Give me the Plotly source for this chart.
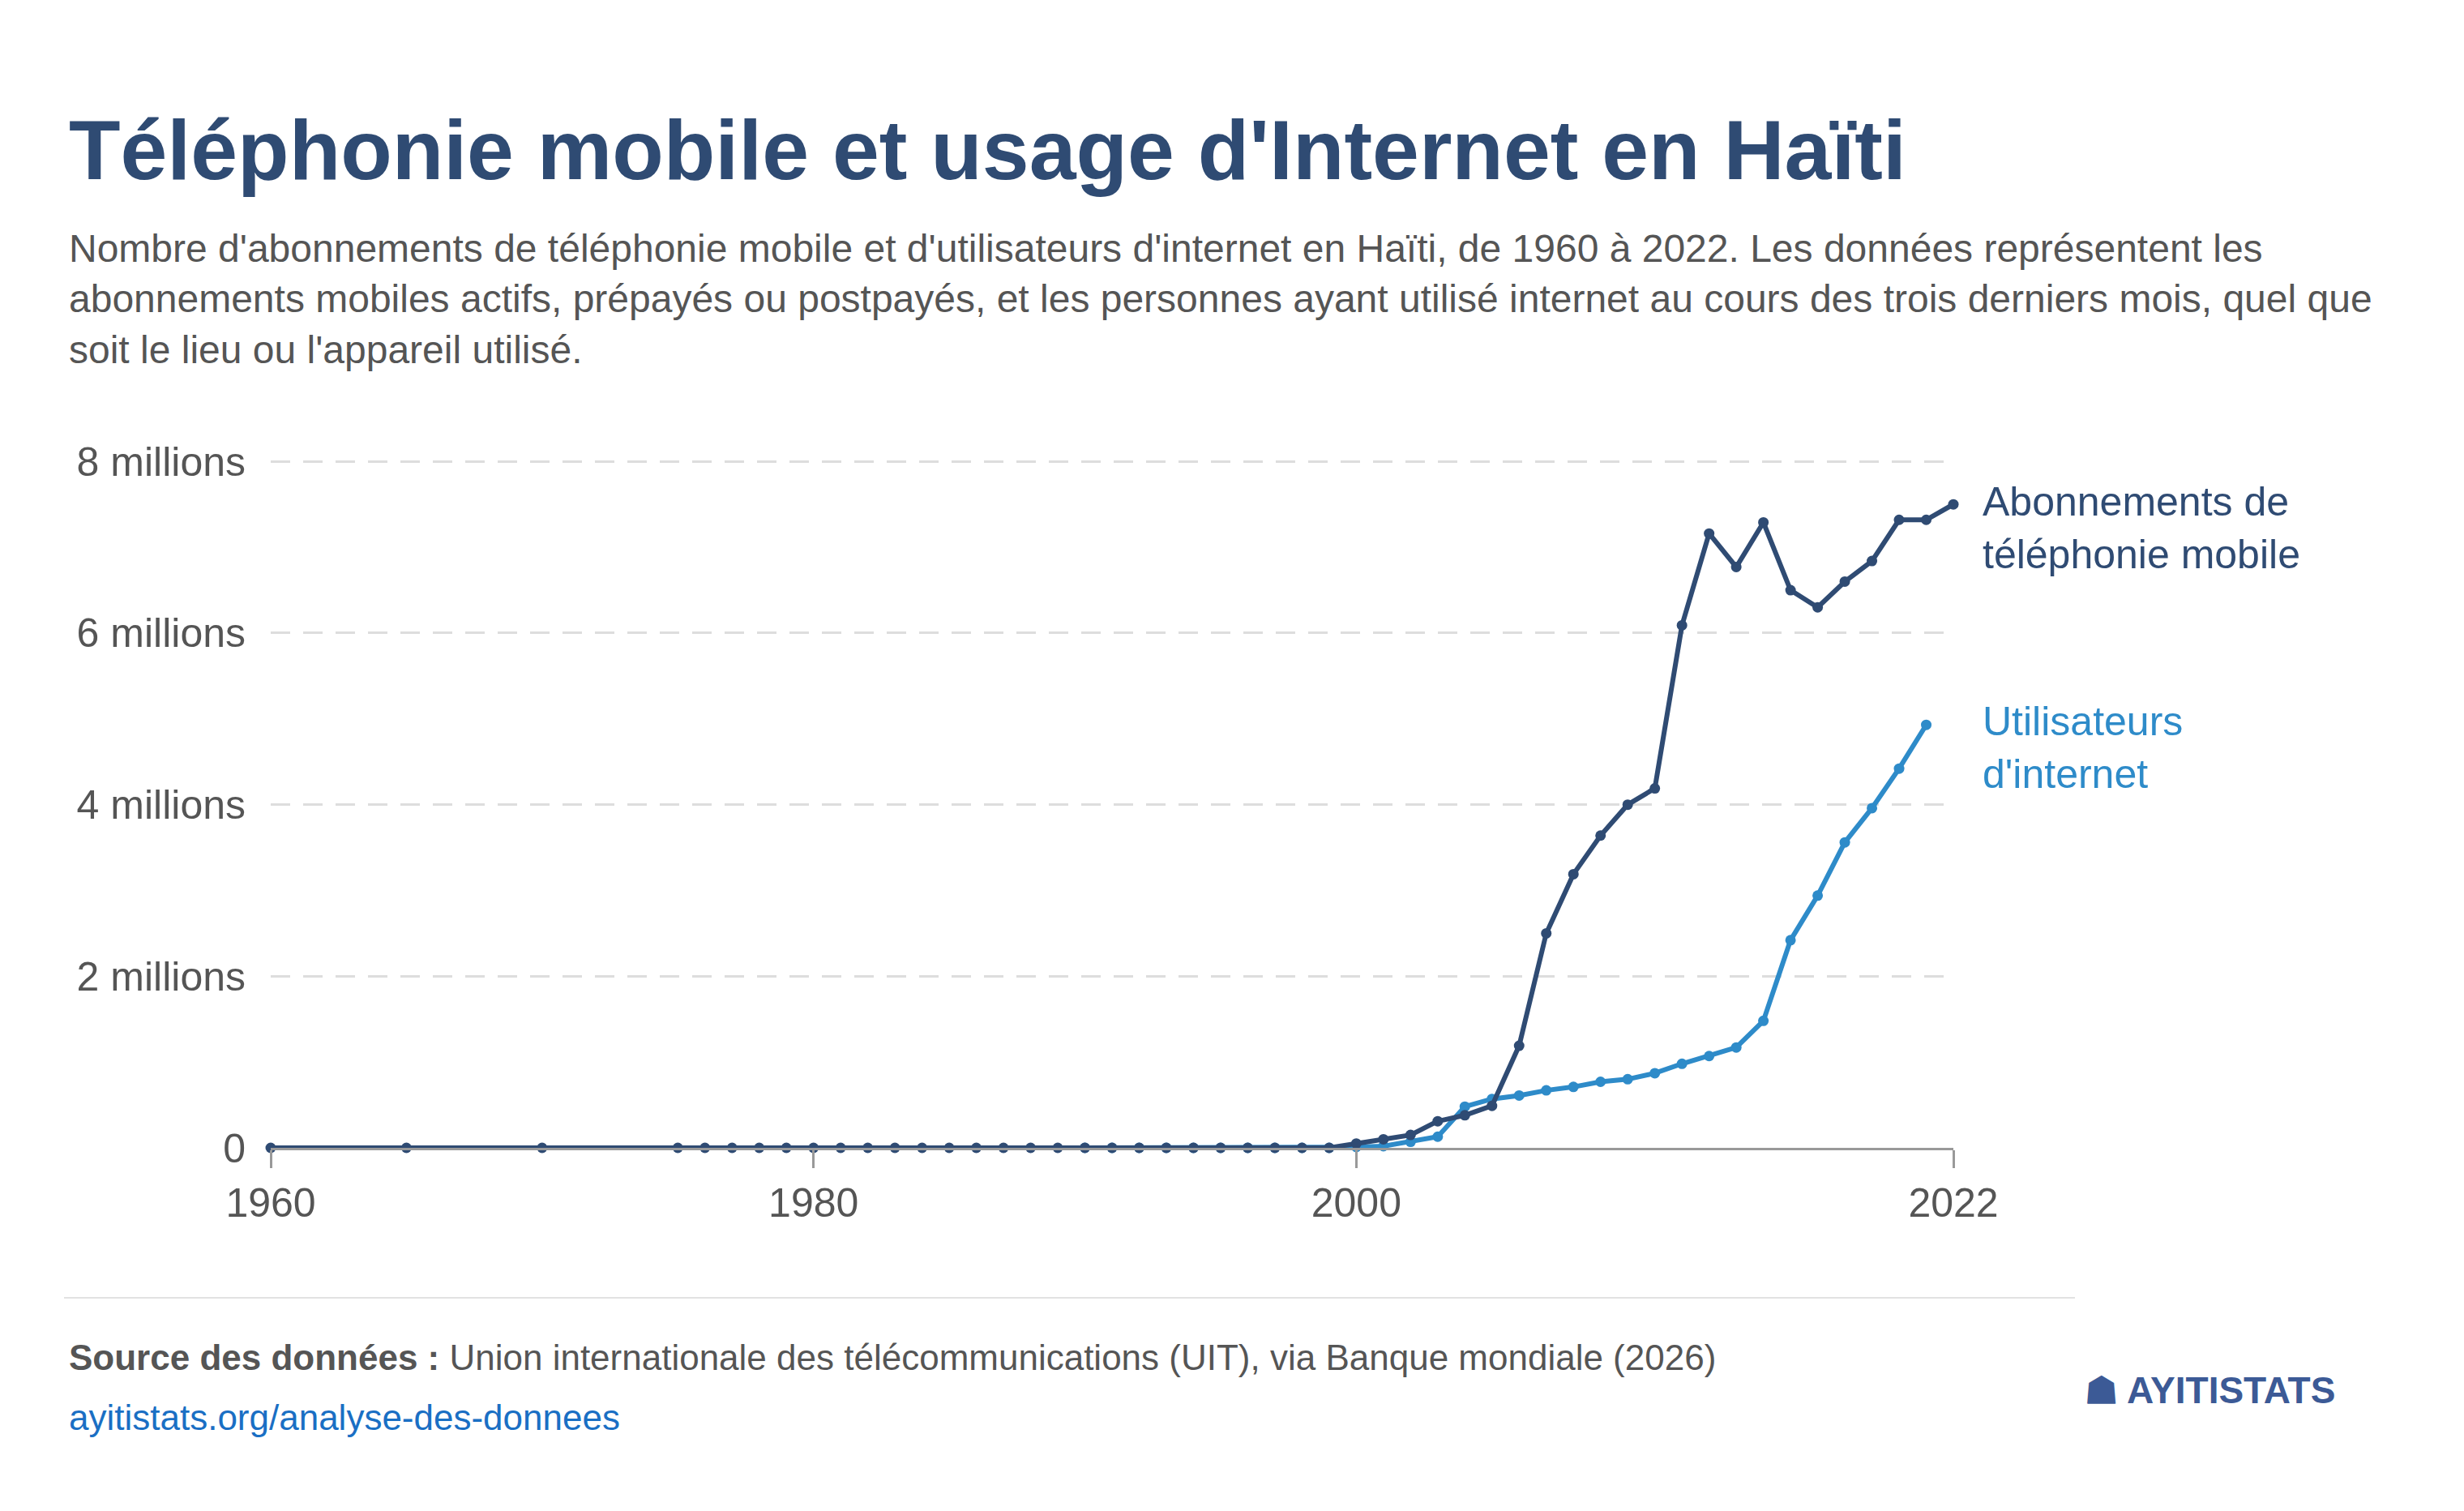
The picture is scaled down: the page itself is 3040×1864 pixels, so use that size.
import plotly.graph_objects as go

# Abonnements de téléphonie mobile (valeurs en millions)
mobile_years = [1960, 1965, 1970] + list(range(1975, 2023))
mobile_values = [0, 0, 0] + [0] * 25 + [
    0.05, 0.10, 0.15, 0.31, 0.38, 0.49, 1.19, 2.50, 3.19, 3.64,
    4.00, 4.19, 6.09, 7.16, 6.77, 7.29, 6.50, 6.30, 6.60, 6.84,
    7.32, 7.32, 7.50,
]

# Utilisateurs d'internet (valeurs en millions)
internet_years = list(range(1990, 2022))
internet_values = [0] * 10 + [
    0.01, 0.02, 0.07, 0.13, 0.48, 0.57, 0.61, 0.67, 0.71, 0.77,
    0.80, 0.87, 0.98, 1.07, 1.17, 1.48, 2.42, 2.94, 3.56, 3.96,
    4.42, 4.93,
]

x_ticks = [1960, 1980, 2000, 2022]
y_ticks = [0, 2e6, 4e6, 6e6, 8e6]
y_tick_labels = ["0", "2 millions", "4 millions", "6 millions", "8 millions"]

DARK = "#2f4b73"
LIGHT = "#2e8bc9"
FONT = "Liberation Sans, Arial, sans-serif"

W, H = 3040, 1864
L, R, T, B = 326, 2402, 556, 1408


def px(x):
    return (x - L) / (R - L)


def py(y):
    return (B - y) / (B - T)


fig = go.Figure()
fig.add_trace(go.Scatter(
    x=internet_years, y=[v * 1e6 for v in internet_values],
    mode="lines+markers", line=dict(color=LIGHT, width=6),
    marker=dict(size=13, color=LIGHT), cliponaxis=False,
    name="Utilisateurs d'internet",
))
fig.add_trace(go.Scatter(
    x=mobile_years, y=[v * 1e6 for v in mobile_values],
    mode="lines+markers", line=dict(color=DARK, width=6),
    marker=dict(size=13, color=DARK), cliponaxis=False,
    name="Abonnements de téléphonie mobile",
))

ann = [
    dict(x=px(75), y=py(177), text="<b>Téléphonie mobile et usage d'Internet en Haïti</b>",
         font=dict(size=104, color=DARK)),
    dict(x=px(75), y=py(361),
         text="Nombre d'abonnements de téléphonie mobile et d'utilisateurs d'internet en Haïti, de 1960 à 2022. Les données représentent les<br>"
              "abonnements mobiles actifs, prépayés ou postpayés, et les personnes ayant utilisé internet au cours des trois derniers mois, quel que<br>"
              "soit le lieu ou l'appareil utilisé.",
         font=dict(size=48, color="#555555")),
    dict(x=px(75), y=py(1666),
         text="<b>Source des données :</b> Union internationale des télécommunications (UIT), via Banque mondiale (2026)",
         font=dict(size=44, color="#555555")),
    dict(x=px(75), y=py(1740), text="ayitistats.org/analyse-des-donnees",
         font=dict(size=44, color="#1a6fc4")),
    dict(x=px(2562), y=py(1707), text="<b>☗ AYITISTATS</b>",
         font=dict(size=46, color="#3c5a96")),
    dict(x=px(2436), y=py(643), text="Abonnements de<br>téléphonie mobile",
         font=dict(size=50, color=DARK)),
    dict(x=px(2436), y=py(914), text="Utilisateurs<br>d'internet",
         font=dict(size=50, color=LIGHT)),
]
for a in ann:
    a.update(xref="paper", yref="paper", xanchor="left", yanchor="middle",
             showarrow=False, align="left")

fig.update_layout(
    width=W, height=H,
    margin=dict(l=L, r=W - R, t=T, b=H - B, pad=0),
    plot_bgcolor="white", paper_bgcolor="white",
    font=dict(family=FONT, color="#555555"),
    showlegend=False,
    annotations=ann,
    shapes=[dict(type="line", xref="paper", yref="paper",
                 x0=px(71), x1=px(2552), y0=py(1593), y1=py(1593),
                 line=dict(color="#e2e2e2", width=2))],
    xaxis=dict(range=[1960, 2022], tickvals=x_ticks, showgrid=False,
               zeroline=False, showline=True, linecolor="#999999", linewidth=3,
               ticks="outside", ticklen=22, tickwidth=3, tickcolor="#999999",
               tickfont=dict(size=50, color="#555555")),
    yaxis=dict(range=[0, 8.05e6], tickvals=y_ticks, ticktext=y_tick_labels,
               showgrid=True, gridcolor="#dddddd", griddash="24px,16px", gridwidth=3,
               zeroline=False, showline=False, ticks="", ticklabelstandoff=30,
               tickfont=dict(size=50, color="#555555")),
)

fig.write_html("out.html")
